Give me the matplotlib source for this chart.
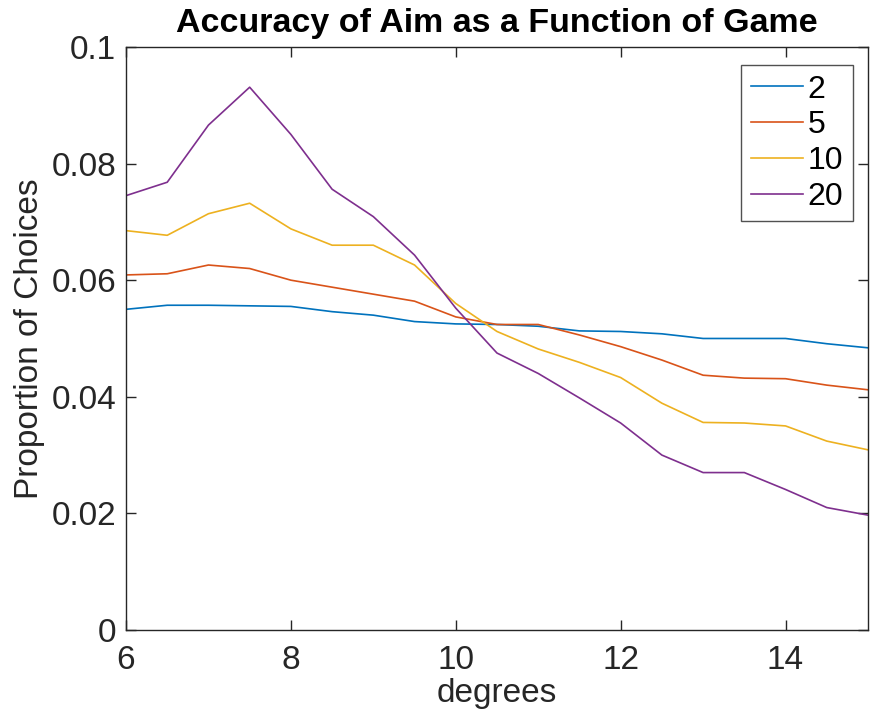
import matplotlib

matplotlib.use("Agg")

import numpy as np
import matplotlib.pyplot as plt

plt.rcParams['font.family'] = ['Liberation Sans', 'DejaVu Sans']

degrees = [6, 6.5, 7, 7.5, 8, 8.5, 9, 9.5, 10, 10.5, 11, 11.5, 12, 12.5, 13, 13.5, 14, 14.5, 15]

game2 = [0.0550, 0.0557, 0.0557, 0.0556, 0.0555, 0.0546, 0.0540, 0.0529, 0.0525, 0.0524,
         0.0521, 0.0513, 0.0512, 0.0508, 0.0500, 0.0500, 0.0500, 0.0491, 0.0484]
game5 = [0.0609, 0.0611, 0.0626, 0.0620, 0.0600, 0.0588, 0.0576, 0.0564, 0.0537, 0.0524,
         0.0524, 0.0506, 0.0486, 0.0463, 0.0437, 0.0432, 0.0431, 0.0420, 0.0412]
game10 = [0.0685, 0.0677, 0.0714, 0.0732, 0.0688, 0.0660, 0.0660, 0.0626, 0.0560, 0.0512,
          0.0482, 0.0459, 0.0433, 0.0389, 0.0356, 0.0355, 0.0350, 0.0324, 0.0309]
game20 = [0.0745, 0.0768, 0.0866, 0.0931, 0.0850, 0.0756, 0.0709, 0.0643, 0.0552, 0.0475,
          0.0440, 0.0398, 0.0355, 0.0300, 0.0270, 0.0270, 0.0241, 0.0210, 0.0197]

labels = ['2', '5', '10', '20']
colors = ['#0072BD', '#D95319', '#EDB120', '#7E2F8E']

fig = plt.figure(figsize=(8.72, 7.15), dpi=100)
ax = fig.add_axes([0.1445, 0.1189, 0.8509, 0.8154])

for y, lab, c in zip([game2, game5, game10, game20], labels, colors):
    ax.plot(degrees, y, color=c, lw=1.2, label=lab)

ax.set_xlim(6, 15)
ax.set_ylim(0, 0.1)
ax.set_xticks([6, 8, 10, 12, 14])
ax.set_yticks([0, 0.02, 0.04, 0.06, 0.08, 0.1])
ax.set_yticklabels(['0', '0.02', '0.04', '0.06', '0.08', '0.1'])

tc = '#262626'
ax.tick_params(direction='in', length=7, width=1, top=True, right=True,
               labelsize=24, colors=tc)
ax.tick_params(axis='x', pad=11)
ax.tick_params(axis='y', pad=7)
for s in ax.spines.values():
    s.set_color(tc)
    s.set_linewidth(1)

ax.set_xlabel('degrees', fontsize=24, color=tc, labelpad=1)
ax.set_ylabel('Proportion of Choices', fontsize=24, color=tc, labelpad=5)
ax.set_title('Accuracy of Aim as a Function of Game', fontsize=24.5, fontweight='bold', pad=11)

leg = ax.legend(loc='upper right', bbox_to_anchor=(0.9798, 0.969), borderaxespad=0,
                fontsize=23, frameon=True, fancybox=False,
                handlelength=1.63, handletextpad=0.15, borderpad=0.3, labelspacing=0.18)
leg.get_frame().set_edgecolor(tc)
leg.get_frame().set_linewidth(1)

fig.savefig('out.png', dpi=100)
